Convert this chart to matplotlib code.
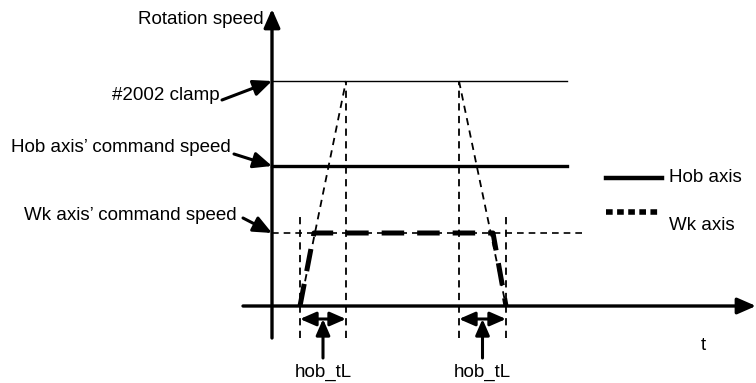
import matplotlib
matplotlib.use("Agg")
import matplotlib.pyplot as plt

plt.rcParams['font.family'] = ['Liberation Sans', 'DejaVu Sans']

# speed levels (arbitrary units) and time marks
clamp_speed = 225
hob_speed = 140
wk_speed = 73
line_end = [295, 295, 311]          # end time of clamp, hob, wk reference lines

t_acc = [28, 74]                    # accel ramp: start, reaches clamp
t_dec = [187, 234]                  # decel ramp: leaves clamp, stop
wk_t = [28, 42, 221, 234]           # Wk axis profile
wk_v = [0, wk_speed, wk_speed, 0]

level_labels = ["#2002 clamp", "Hob axis\u2019 command speed", "Wk axis\u2019 command speed"]
level_speeds = [clamp_speed, hob_speed, wk_speed]
legend_labels = ["Hob axis", "Wk axis"]

fig = plt.figure(figsize=(7.56, 3.83), dpi=100)
ax = fig.add_axes([0, 0, 1, 1])
ax.set_xlim(-272, 484)
ax.set_ylim(-77, 306)
ax.axis("off")

fs = 13.5
k = "black"


def arrow(p_from, p_to, style="-|>", lw=2.2, scale=14):
    ax.annotate("", xy=p_to, xytext=p_from,
                arrowprops=dict(arrowstyle=style + ",head_length=0.8,head_width=0.35",
                                color=k, lw=lw, shrinkA=0, shrinkB=0,
                                mutation_scale=scale))


# axes with arrows
arrow((0, -32), (0, 297), lw=2.4)
arrow((-29, 0), (484, 0), lw=2.4)
ax.text(-8, 286, "Rotation speed", ha="right", va="center", fontsize=fs)
ax.text(431, -39, "t", ha="center", va="center", fontsize=fs)

# reference levels
ax.plot([0, line_end[0]], [clamp_speed, clamp_speed], color=k, lw=1.0)
ax.plot([0, line_end[1]], [hob_speed, hob_speed], color=k, lw=2.4)
ax.plot([0, line_end[2]], [wk_speed, wk_speed], color=k, lw=1.2, dashes=(4, 3))

# clamp ramps (thin dashed)
ax.plot(t_acc, [0, clamp_speed], color=k, lw=1.3, dashes=(4, 3))
ax.plot(t_dec, [clamp_speed, 0], color=k, lw=1.3, dashes=(4, 3))

# vertical guides
for t, top in [(t_acc[0], 90), (t_acc[1], clamp_speed), (t_dec[0], clamp_speed), (t_dec[1], 90)]:
    ax.plot([t, t], [-32, top], color=k, lw=1.3, dashes=(4, 3))

# Wk axis profile (thick dashed)
ax.plot(wk_t, wk_v, color=k, lw=3.6, dashes=(4.5, 2.6))

# level labels with arrows
tails = [(-50, 206), (-38, 152), (-29, 88)]
text_pos = [(-52, 211), (-41, 158), (-35, 91)]
for lab, v, tail, (tx, ty) in zip(level_labels, level_speeds, tails, text_pos):
    arrow(tail, (0, v), lw=2.2)
    ax.text(tx, ty, lab, ha="right", va="center", fontsize=fs)

# hob_tL markers
for t0, t1 in [t_acc, t_dec]:
    arrow((t0, -13), (t1, -13), style="<|-|>", lw=2.2, scale=12)
    mid = (t0 + t1) / 2
    arrow((mid, -52), (mid, -13), lw=2.2, scale=12)
    ax.text(mid, -66, "hob_tL", ha="center", va="center", fontsize=fs)

# legend
ax.plot([334, 390], [128, 128], color=k, lw=3.2)
ax.text(397, 128, legend_labels[0], ha="left", va="center", fontsize=fs)
ax.plot([334, 388], [94, 94], color=k, lw=4.0, dashes=(1.2, 0.8))
ax.text(397, 81, legend_labels[1], ha="left", va="center", fontsize=fs)

fig.savefig("out.png", dpi=100)
